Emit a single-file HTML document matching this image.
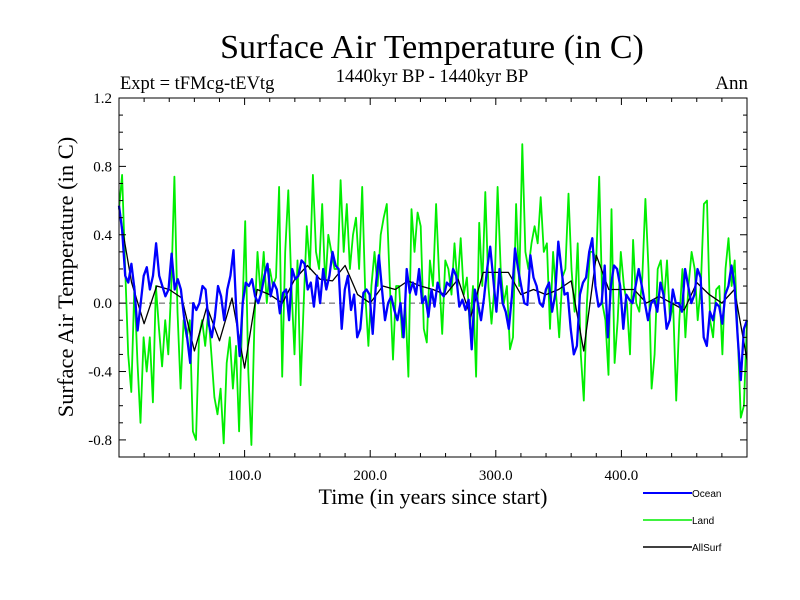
<!DOCTYPE html>
<html><head><meta charset="utf-8"><style>
body{margin:0;background:#fff;width:800px;height:600px;overflow:hidden}
svg{display:block}
.serif{font-family:"Liberation Serif",serif;fill:#000}
.sans{font-family:"Liberation Sans",sans-serif;fill:#000}
</style></head><body>
<svg id="chart" width="800" height="600" viewBox="0 0 800 600">
<text class="serif" x="432" y="58" font-size="34" text-anchor="middle">Surface Air Temperature (in C)</text>
<text class="serif" x="120" y="89" font-size="18.5">Expt = tFMcg-tEVtg</text>
<text class="serif" x="432" y="82" font-size="18.5" text-anchor="middle">1440kyr BP - 1440kyr BP</text>
<text class="serif" x="748" y="89" font-size="19" text-anchor="end">Ann</text>
<text class="serif" font-size="22.5" text-anchor="middle" transform="translate(73,277) rotate(-90)">Surface Air Temperature (in C)</text>
<text class="serif" x="433" y="504" font-size="22" text-anchor="middle">Time (in years since start)</text>
<g id="plot"></g>
<g>
<line x1="643" y1="493" x2="692" y2="493" stroke="#0000ff" stroke-width="2"/>
<text class="sans" x="692" y="497" font-size="10">Ocean</text>
<line x1="643" y1="520" x2="692" y2="520" stroke="#00ee00" stroke-width="1.5"/>
<text class="sans" x="692" y="524" font-size="10">Land</text>
<line x1="643" y1="547" x2="692" y2="547" stroke="#000" stroke-width="1.5"/>
<text class="sans" x="692" y="551" font-size="10">AllSurf</text>
</g>
</svg>
<script>
const xTickValues=[100,200,300,400];
const xTickLabels=["100.0","200.0","300.0","400.0"];
const yTickValues=[-0.8,-0.4,0,0.4,0.8,1.2];
const yTickLabels=["-0.8","-0.4","0.0","0.4","0.8","1.2"];
const xDomain=[0,500];
const yDomain=[-0.9,1.2];
const oceanValues=[0.57,0.43,0.16,0.12,0.23,0.08,-0.16,0,0.16,0.21,0.08,0.16,0.35,0.16,0.1,0.04,0.08,0.29,0.08,0.14,0.08,-0.08,-0.2,-0.35,0,-0.04,0,0.1,0.08,-0.12,-0.2,-0.08,0.1,0.04,-0.1,0.08,0.16,0.31,-0.08,-0.31,0,0.12,0.1,0.14,0.04,0,0.06,0.16,0.23,0.04,0.12,0.08,-0.06,0.06,0.08,-0.1,0.2,0.14,0.16,0.25,0.23,0.08,0.12,-0.02,0.16,
0.0,0.2,0.08,0.16,0.3,0.22,0.2,-0.15,0.08,0.16,-0.04,0.05,-0.2,-0.15,0.06,0.08,0.05,-0.18,0.1,0.28,0.08,-0.1,0,0.04,-0.04,-0.1,0,-0.2,0.2,0.06,0.12,0.05,0.2,0,0.04,-0.08,0.08,-0.02,0.12,0.06,0.04,0.12,0.1,0.2,0.16,-0.02,0.02,-0.04,0.02,-0.27,0.08,0,-0.1,0.03,0.2,0.33,0.14,-0.05,0.2,0,-0.05,-0.15,0.04,0.32,0.2,0.1,0,-0.01,0.28,0.15,0.1,0,
-0.02,0.08,0.12,-0.05,0.05,0.36,0.2,0.05,0.06,-0.15,-0.3,-0.25,0.05,0.12,0.15,0.3,0.38,0.1,-0.02,0,0.22,-0.2,0.1,0.22,0.2,0.1,-0.15,0.05,0.02,0,0.1,0.2,0.1,0,-0.1,0,0.02,-0.05,0.12,0.05,-0.15,-0.1,0.08,0,0,-0.05,0.2,0.1,0,0.05,0.2,0.15,-0.2,-0.25,-0.05,-0.1,0,-0.02,-0.12,0.05,0.1,0.22,0.1,-0.2,-0.45,-0.15,-0.1];
const landValues=[0.55,0.75,0.2,-0.3,-0.52,0.1,-0.35,-0.7,-0.2,-0.4,-0.2,-0.58,0.1,-0.15,-0.37,-0.1,-0.3,0.1,0.74,-0.05,-0.5,-0.1,-0.2,-0.1,-0.75,-0.8,-0.2,-0.1,-0.25,-0.05,-0.3,-0.55,-0.65,-0.5,-0.82,-0.35,-0.2,-0.5,-0.25,-0.75,-0.1,0.48,-0.4,-0.83,-0.1,0.3,0.05,0.3,0,0.2,0.1,0.15,0.68,-0.43,0.3,0.66,0.1,-0.3,0.25,-0.48,0,0.45,0.2,0.75,0.3,0.2,0.58,0.1,0.4,
0.3,0.2,0.2,0.72,0.3,0.58,0.2,0.4,0.5,0.2,0.68,0.05,-0.25,0.1,0.3,0.1,0.4,0.5,0.58,0.1,-0.33,0.1,0.1,-0.2,0,-0.43,0.55,0.3,0.53,0.45,-0.15,-0.23,0.25,0.1,0.58,0.15,-0.18,0.25,0.2,0.05,0.35,0.1,0.38,0.05,0.15,-0.15,0.1,-0.43,0.47,0.1,0.65,0.1,-0.12,0.1,0.68,0.2,0,0.1,-0.27,-0.2,0.58,0.1,0.93,0.3,0.2,0.35,0.45,0.35,0.62,
0.3,0.35,-0.15,0.3,0.05,-0.2,0.15,0.2,0.64,0.2,-0.05,0.35,-0.3,-0.57,0,0.3,0.3,0.25,0.74,0,-0.1,-0.42,0.55,-0.35,-0.1,0.3,0.1,0,-0.3,0.37,0,-0.05,0.15,0.61,0.2,-0.5,-0.3,0.2,0.25,0,0.25,-0.1,0,-0.57,-0.1,0.2,-0.2,0.1,0.3,0.2,-0.1,0.1,0.58,0.6,-0.1,-0.2,0.08,0.1,-0.3,0.2,0.38,0.1,0.25,-0.2,-0.67,-0.6,-0.1];
const allSurfValues=[0.55,0.12,-0.12,0.1,0.08,0.03,-0.28,-0.02,-0.22,0.03,-0.38,0.08,0.05,0,0.14,0.22,0.14,0.13,0.22,0.05,0,0.1,0.08,0.13,0.1,0.08,0.05,0.14,-0.08,0.18,0.18,0.18,0.05,0.08,0.05,0.08,0.13,-0.28,0.28,0.08,0.08,0.08,0,0.04,0,-0.04,0.12,0.05,0,0.08,-0.33];

const svgNS="http://www.w3.org/2000/svg";
const L=119,R=747,T=98,B=457;
function xs(v){return L+(v-xDomain[0])/(xDomain[1]-xDomain[0])*(R-L);}
function ys(v){return B-(v-yDomain[0])/(yDomain[1]-yDomain[0])*(B-T);}
const plot=document.getElementById('plot');
function mk(tag,attrs){const e=document.createElementNS(svgNS,tag);for(const k in attrs)e.setAttribute(k,attrs[k]);return e;}

const zl=mk('line',{x1:L,x2:R,y1:ys(0),y2:ys(0),stroke:'#555','stroke-width':1,'stroke-dasharray':'6,4'});


plot.appendChild(zl);

function series(vals,color,w,name){
  const n=vals.length;
  const pts=vals.map((v,i)=>xs(xDomain[0]+i*(xDomain[1]-xDomain[0])/(n-1)).toFixed(1)+','+ys(v).toFixed(1)).join(' ');
  const p=mk('polyline',{points:pts,fill:'none',stroke:color,'stroke-width':w,'stroke-linejoin':'round'});
  
  
  plot.appendChild(p);
}
series(landValues,'#00ee00',1.8,'land-series');
series(allSurfValues,'#000',1.3,'allsurf-series');
series(oceanValues,'#0000ff',2.3,'ocean-series');

const fr=mk('rect',{x:L,y:T,width:R-L,height:B-T,fill:'none',stroke:'#000','stroke-width':1});


plot.appendChild(fr);

for(let v=20;v<500;v+=20){
  const big=v%100===0, len=big?7:4;
  const t1=mk('line',{x1:xs(v),x2:xs(v),y1:B,y2:B-len,stroke:'#000'});
  
  
  plot.appendChild(t1);
  const t2=mk('line',{x1:xs(v),x2:xs(v),y1:T,y2:T+len,stroke:'#000'});
  
  
  plot.appendChild(t2);
}
for(let k=-8;k<=11;k++){
  const v=k/10, big=(k%4===0), len=big?7:4;
  const t1=mk('line',{x1:L,x2:L+len,y1:ys(v),y2:ys(v),stroke:'#000'});
  
  
  plot.appendChild(t1);
  const t2=mk('line',{x1:R,x2:R-len,y1:ys(v),y2:ys(v),stroke:'#000'});
  
  
  plot.appendChild(t2);
}
xTickValues.forEach((v,i)=>{
  const t=mk('text',{x:xs(v),y:480,'font-size':15,'text-anchor':'middle',class:'serif'});
  t.textContent=xTickLabels[i];
  
  
  plot.appendChild(t);
});
yTickValues.forEach((v,i)=>{
  const t=mk('text',{x:112,y:ys(v)+5,'font-size':15,'text-anchor':'end',class:'serif'});
  t.textContent=yTickLabels[i];
  
  
  plot.appendChild(t);
});
</script>
</body></html>
